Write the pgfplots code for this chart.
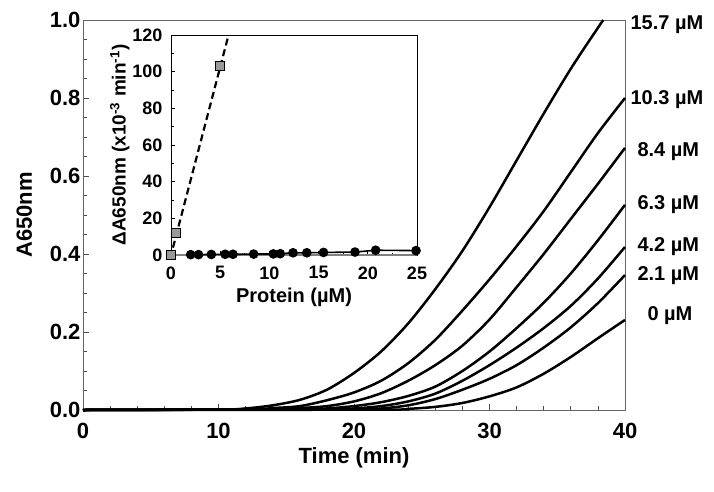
\documentclass[border=0pt]{standalone}
\usepackage{fontspec}
\setmainfont{Liberation Sans}
\usepackage{pgfplots}
\pgfplotsset{compat=1.18}
\usetikzlibrary{calc}

\pgfplotsset{kin/.style={black, line width=2.5pt, no marks, smooth, tension=0.5, line join=round}}

\begin{document}
\begin{tikzpicture}
  % main kinetics panel
  \begin{axis}[
      name=main,
      at={(0,0)}, anchor=south west,
      scale only axis,
      width=542pt, height=390pt,
      xmin=0, xmax=40, ymin=0, ymax=1,
      xtick={0,10,...,40}, minor x tick num=4,
      ytick={0,0.2,...,1.0}, minor y tick num=3,
      tick align=inside, xtick pos=left, ytick pos=left,
      major tick length=6pt, minor tick length=4pt,
      axis line style={draw=black!60, line width=0.9pt},
      tick style={black!70, line width=0.8pt},
      yticklabel style={/pgf/number format/fixed, /pgf/number format/precision=1,
        /pgf/number format/fixed zerofill},
      /pgf/number format/assume math mode=true,
      ticklabel style={font=\fontsize{22}{24}\selectfont\bfseries},
      xticklabel style={yshift=-10pt},
      yticklabel style={xshift=1pt},
      xlabel={Time (min)}, ylabel={A650nm},
      label style={font=\fontsize{22}{24}\selectfont\bfseries},
      xlabel style={yshift=-2pt},
      ylabel style={yshift=11pt},
      clip=false,
    ]
    % 15.7 uM
    \addplot[kin] coordinates {(0,0) (10,0.001) (12,0.004) (14,0.012) (16,0.026)
      (18,0.052) (20,0.095) (22,0.15) (24,0.222) (26,0.31) (28,0.408) (30,0.52)
      (32,0.64) (34,0.76) (36,0.875) (38,0.98) (38.4,1.0)};
    % 10.3 uM
    \addplot[kin] coordinates {(0,0) (12,0.002) (14,0.005) (16,0.01) (18,0.025)
      (20,0.045) (22,0.075) (24,0.12) (26,0.18) (28,0.255) (30,0.335) (32,0.42)
      (34,0.51) (36,0.61) (38,0.71) (40,0.80)};
    % 8.4 uM
    \addplot[kin] coordinates {(0,0) (14,0.002) (16,0.005) (18,0.01) (20,0.022)
      (22,0.043) (24,0.075) (26,0.115) (28,0.165) (30,0.232) (32,0.315) (34,0.40)
      (36,0.49) (38,0.58) (40,0.672)};
    % 6.3 uM
    \addplot[kin] coordinates {(0,0) (16,0.002) (18,0.004) (20,0.01) (22,0.02)
      (24,0.036) (26,0.06) (28,0.10) (30,0.15) (32,0.21) (34,0.275) (36,0.35)
      (38,0.435) (40,0.526)};
    % 4.2 uM
    \addplot[kin] coordinates {(0,0) (18,0.002) (20,0.004) (22,0.01) (24,0.022)
      (26,0.042) (28,0.075) (30,0.115) (32,0.16) (34,0.21) (36,0.267) (38,0.337)
      (40,0.418)};
    % 2.1 uM
    \addplot[kin] coordinates {(0,0) (20,0.002) (22,0.004) (24,0.012) (26,0.028)
      (28,0.052) (30,0.08) (32,0.115) (34,0.16) (36,0.212) (38,0.274) (40,0.346)};
    % 0 uM
    \addplot[kin] coordinates {(0,0) (22,0.001) (24,0.003) (26,0.008) (28,0.018)
      (30,0.035) (32,0.058) (34,0.093) (36,0.136) (38,0.184) (40,0.231)};

    \begin{scope}[every node/.style={anchor=west, font=\fontsize{20}{22}\selectfont\bfseries}]
      \node at ([xshift=2pt]axis cs:40,0.987) {15.7 µM};
      \node at ([xshift=2pt]axis cs:40,0.795) {10.3 µM};
      \node at ([xshift=9pt]axis cs:40,0.662) {8.4 µM};
      \node at ([xshift=9pt]axis cs:40,0.526) {6.3 µM};
      \node at ([xshift=9pt]axis cs:40,0.418) {4.2 µM};
      \node at ([xshift=9pt]axis cs:40,0.344) {2.1 µM};
      \node at ([xshift=19pt]axis cs:40,0.241) {0 µM};
    \end{scope}
  \end{axis}

  % inset: rate vs protein
  \begin{axis}[
      at={(88pt,155pt)}, anchor=south west,
      scale only axis,
      width=246pt, height=220pt,
      xmin=0, xmax=25, ymin=0, ymax=120,
      xtick={0,5,...,25}, minor x tick num=1,
      ytick={0,20,...,120}, minor y tick num=1,
      tick align=inside, xtick pos=left, ytick pos=left,
      major tick length=4pt, minor tick length=2.5pt,
      axis line style={black, line width=0.7pt},
      tick style={black, line width=0.7pt},
      /pgf/number format/assume math mode=true,
      ticklabel style={font=\fontsize{18}{20}\selectfont\bfseries},
      xticklabel style={yshift=-8pt},
      yticklabel style={xshift=-5pt},
      xlabel={Protein (µM)},
      ylabel={ΔA650nm (x10\textsuperscript{-3} min\textsuperscript{-1})},
      label style={font=\fontsize{19}{21}\selectfont\bfseries},
      xlabel style={font=\fontsize{20}{22}\selectfont\bfseries, yshift=-2pt},
      ylabel style={yshift=-4pt},
      clip=false,
    ]
    \addplot[gray, line width=1.2pt, no marks] coordinates {(0,0) (25,0)};
    \addplot[black, line width=2.2pt, dash pattern=on 7pt off 4pt, no marks]
      coordinates {(0.2,4) (5.85,120)};
    \addplot[black, line width=1.6pt, mark=*, mark size=4pt]
      coordinates {(2.0,0.2) (2.8,0.2) (4.1,0.3) (5.5,0.4) (6.3,0.4) (8.4,0.5)
        (10.4,0.6) (11.1,0.7) (12.4,1.2) (13.8,1.2) (15.5,1.4) (18.7,1.6)
        (20.8,2.6) (24.9,2.4)};
    \addplot[only marks, mark=square*, mark size=4.5pt,
      mark options={fill=black!40, draw=black, line width=0.6pt}]
      coordinates {(0,0) (0.5,12) (5,103)};
  \end{axis}

  \pgfresetboundingbox
  \path (-83pt,-81pt) rectangle (631pt,410pt);
\end{tikzpicture}
\end{document}
